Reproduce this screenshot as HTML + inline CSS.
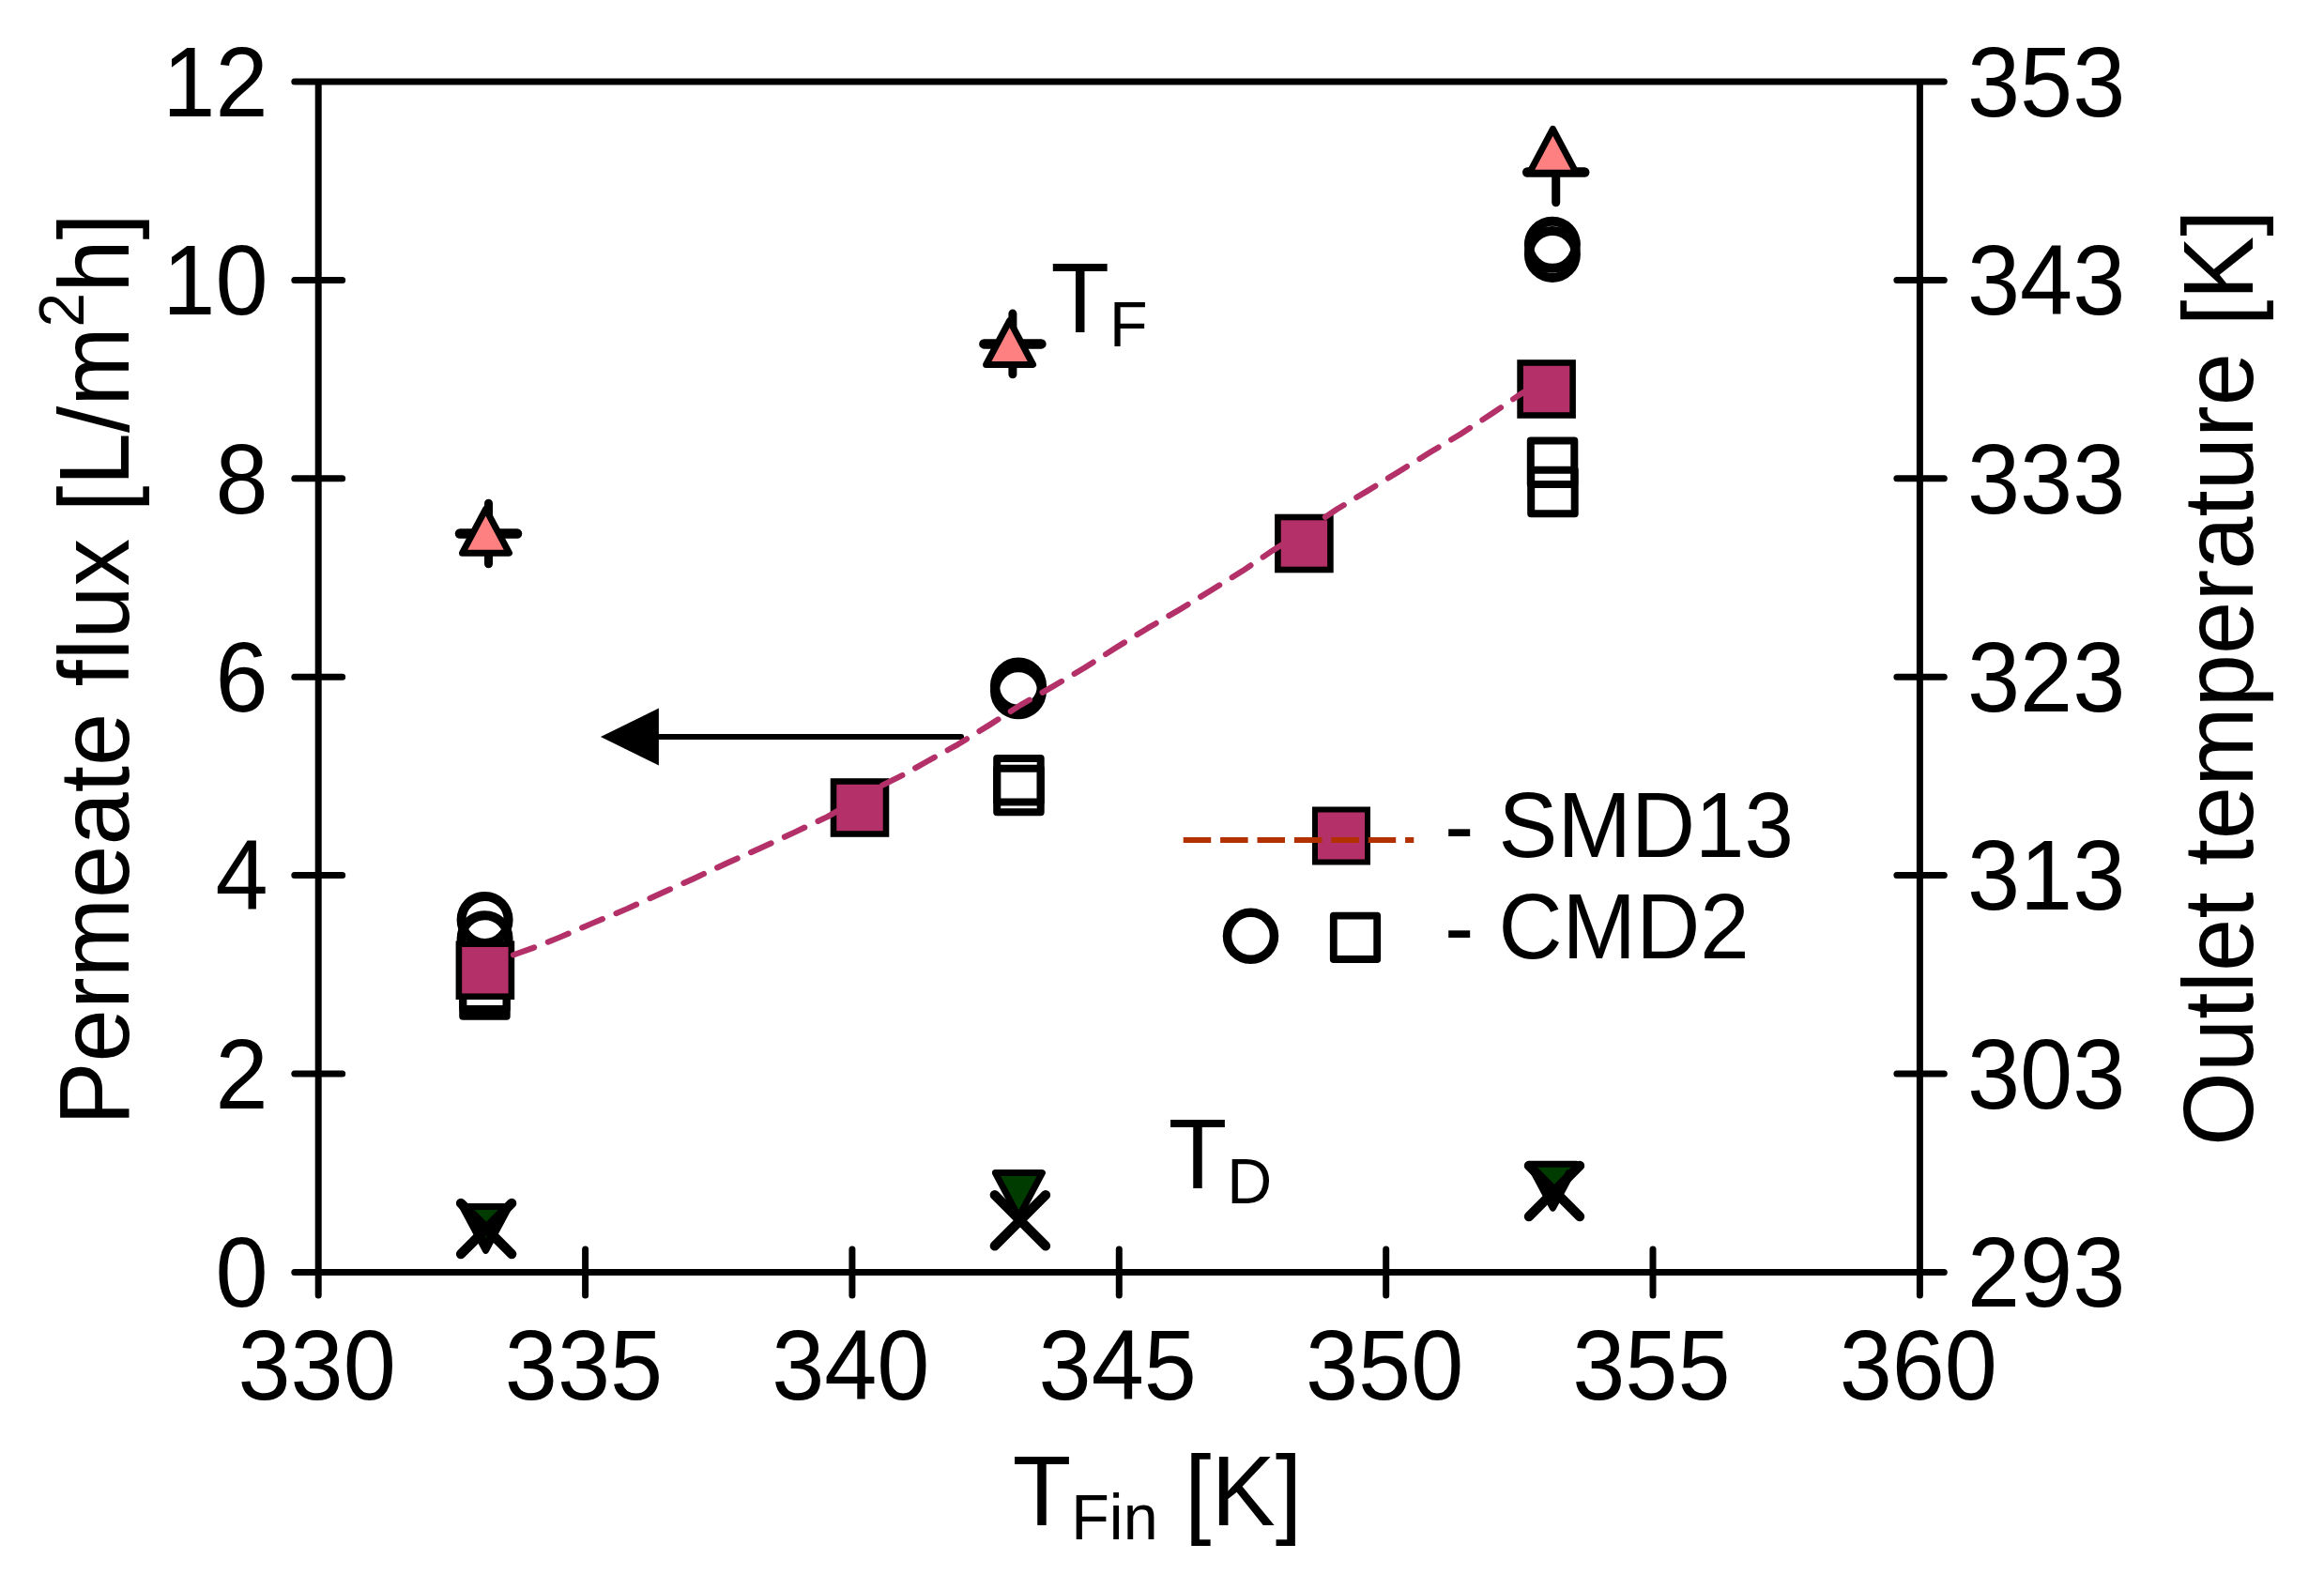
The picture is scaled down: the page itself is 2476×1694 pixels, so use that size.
<!DOCTYPE html>
<html lang="en"><head><meta charset="utf-8"><title>Permeate flux vs feed inlet temperature</title>
<style>html,body{margin:0;padding:0;background:#fff}body{width:2476px;height:1694px;overflow:hidden}svg{display:block}text{font-family:"Liberation Sans",Arial,Helvetica,sans-serif;fill:#000}</style>
</head><body>
<svg width="2476" height="1694" viewBox="0 0 2476 1694">
<rect width="2476" height="1694" fill="#fff"/>
<g id="axes" stroke="#000" stroke-width="7" stroke-linecap="round" fill="none">
<path d="M339.2,87.0 V1379.9 M2045.4,87.0 V1379.9 M313.8,87.0 H2071.3 M313.8,1355.4 H2071.3"/>
<path d="M313.8,298.4 H364.7 M2020.9,298.4 H2071.3 M313.8,509.8 H364.7 M2020.9,509.8 H2071.3 M313.8,721.2 H364.7 M2020.9,721.2 H2071.3 M313.8,932.6 H364.7 M2020.9,932.6 H2071.3 M313.8,1144.0 H364.7 M2020.9,1144.0 H2071.3 M623.6,1330.9 V1379.9 M907.9,1330.9 V1379.9 M1192.3,1330.9 V1379.9 M1476.7,1330.9 V1379.9 M1761.0,1330.9 V1379.9"/>
</g>
<g id="ticklabels">
<text transform="translate(285.5,123.7) scale(0.985,1.0405)" font-size="102.4" text-anchor="end">12</text>
<text transform="translate(285.5,335.1) scale(0.985,1.0405)" font-size="102.4" text-anchor="end">10</text>
<text transform="translate(285.5,546.5) scale(0.985,1.0405)" font-size="102.4" text-anchor="end">8</text>
<text transform="translate(285.5,757.9) scale(0.985,1.0405)" font-size="102.4" text-anchor="end">6</text>
<text transform="translate(285.5,969.3) scale(0.985,1.0405)" font-size="102.4" text-anchor="end">4</text>
<text transform="translate(285.5,1180.7) scale(0.985,1.0405)" font-size="102.4" text-anchor="end">2</text>
<text transform="translate(285.5,1392.1) scale(0.985,1.0405)" font-size="102.4" text-anchor="end">0</text>
<text transform="translate(2096.0,123.7) scale(0.985,1.0405)" font-size="102.4" text-anchor="start">353</text>
<text transform="translate(2096.0,335.1) scale(0.985,1.0405)" font-size="102.4" text-anchor="start">343</text>
<text transform="translate(2096.0,546.5) scale(0.985,1.0405)" font-size="102.4" text-anchor="start">333</text>
<text transform="translate(2096.0,757.9) scale(0.985,1.0405)" font-size="102.4" text-anchor="start">323</text>
<text transform="translate(2096.0,969.3) scale(0.985,1.0405)" font-size="102.4" text-anchor="start">313</text>
<text transform="translate(2096.0,1180.7) scale(0.985,1.0405)" font-size="102.4" text-anchor="start">303</text>
<text transform="translate(2096.0,1392.1) scale(0.985,1.0405)" font-size="102.4" text-anchor="start">293</text>
<text transform="translate(337.6,1490.5) scale(0.985,1.0405)" font-size="102.4" text-anchor="middle">330</text>
<text transform="translate(622.0,1490.5) scale(0.985,1.0405)" font-size="102.4" text-anchor="middle">335</text>
<text transform="translate(906.3,1490.5) scale(0.985,1.0405)" font-size="102.4" text-anchor="middle">340</text>
<text transform="translate(1190.7,1490.5) scale(0.985,1.0405)" font-size="102.4" text-anchor="middle">345</text>
<text transform="translate(1475.1,1490.5) scale(0.985,1.0405)" font-size="102.4" text-anchor="middle">350</text>
<text transform="translate(1759.4,1490.5) scale(0.985,1.0405)" font-size="102.4" text-anchor="middle">355</text>
<text transform="translate(2043.8,1490.5) scale(0.985,1.0405)" font-size="102.4" text-anchor="middle">360</text>
</g>
<g id="titles">
<text transform="translate(1078.7,1624.9) scale(1,1.0405)" font-size="102.4" text-anchor="start">T<tspan font-size="66.5" dy="14.2">Fin</tspan><tspan dy="-14.2"> [K]</tspan></text>
<text transform="translate(136.8,1199.1) rotate(-90) scale(0.99,1.0405)" font-size="102.4" text-anchor="start">Permeate flux [L/m<tspan font-size="66.5" dy="-46">2</tspan><tspan dy="46">h]</tspan></text>
<text transform="translate(2400.3,1220.9) rotate(-90) scale(0.99,1.0405)" font-size="102.4" text-anchor="start">Outlet temperature [K]</text>
<text transform="translate(1119.5,354.1) scale(1,1.0405)" font-size="102.4" text-anchor="start">T<tspan font-size="66.5" dy="14.2">F</tspan></text>
<text transform="translate(1244.7,1265.9) scale(1,1.0405)" font-size="102.4" text-anchor="start">T<tspan font-size="66.5" dy="15">D</tspan></text>
</g>
<g id="cmd2">
<rect x="493.2" y="1028.5" width="46.5" height="46.5" fill="none" stroke="#000" stroke-width="8" stroke-linejoin="round"/>
<rect x="493.2" y="1036.2" width="46.5" height="46.5" fill="none" stroke="#000" stroke-width="8" stroke-linejoin="round"/>
<rect x="1062.2" y="808.0" width="46.5" height="46.5" fill="none" stroke="#000" stroke-width="8" stroke-linejoin="round"/>
<rect x="1062.2" y="818.8" width="46.5" height="46.5" fill="none" stroke="#000" stroke-width="8" stroke-linejoin="round"/>
<rect x="1630.8" y="469.4" width="46.5" height="46.5" fill="none" stroke="#000" stroke-width="8" stroke-linejoin="round"/>
<rect x="1631.2" y="500.8" width="46.5" height="46.5" fill="none" stroke="#000" stroke-width="8" stroke-linejoin="round"/>
<circle cx="516.6" cy="979.9" r="25" fill="none" stroke="#000" stroke-width="10"/>
<circle cx="516.6" cy="1000.2" r="25" fill="none" stroke="#000" stroke-width="10"/>
<circle cx="1085" cy="730.6" r="25" fill="none" stroke="#000" stroke-width="10"/>
<circle cx="1085" cy="736.2" r="25" fill="none" stroke="#000" stroke-width="10"/>
<circle cx="1653.9" cy="260.8" r="25" fill="none" stroke="#000" stroke-width="10"/>
<circle cx="1653.9" cy="270.9" r="25" fill="none" stroke="#000" stroke-width="10"/>
</g>
<g id="outlet-temps">
<path d="M490.0,568.5 H551.0" stroke="#000" stroke-width="10.5" stroke-linecap="round"/><path d="M520.5,536.2 V600.8" stroke="#000" stroke-width="9" stroke-linecap="round"/>
<path d="M517.5,542.3 L542.5,589.2 L492.5,589.2 Z" fill="#FF8080" stroke="#000" stroke-width="7" stroke-linejoin="round"/>
<path d="M1048.4,366.4 H1109.4" stroke="#000" stroke-width="10.5" stroke-linecap="round"/><path d="M1078.9,334.09999999999997 V398.7" stroke="#000" stroke-width="9" stroke-linecap="round"/>
<path d="M1075.6,341.6 L1100.6,388.5 L1050.6,388.5 Z" fill="#FF8080" stroke="#000" stroke-width="7" stroke-linejoin="round"/>
<path d="M1627.2,183.5 H1688.2" stroke="#000" stroke-width="10.5" stroke-linecap="round"/><path d="M1657.7,151.2 V215.8" stroke="#000" stroke-width="9" stroke-linecap="round"/>
<path d="M1654.4,137.4 L1679.4,184.3 L1629.4,184.3 Z" fill="#FF8080" stroke="#000" stroke-width="7" stroke-linejoin="round"/>
<path d="M517.5,1332.4 L542.5,1285.5 L492.5,1285.5 Z" fill="#003C00" stroke="#000" stroke-width="7" stroke-linejoin="round"/>
<path d="M500.5,1295.5 L517.5,1327.5 L534.5,1295.5" fill="none" stroke="#000" stroke-width="8" stroke-linejoin="round" stroke-linecap="round"/>
<path d="M491.0,1281.9 L545.2,1336.1 M491.0,1336.1 L545.2,1281.9" stroke="#000" stroke-width="10.3" stroke-linecap="round" fill="none"/>
<path d="M1059.8,1273.2 L1114.0,1327.4 M1059.8,1327.4 L1114.0,1273.2" stroke="#000" stroke-width="10.3" stroke-linecap="round" fill="none"/>
<path d="M1085.4,1296.5 L1110.4,1249.6 L1060.4,1249.6 Z" fill="#003C00" stroke="#000" stroke-width="7" stroke-linejoin="round"/>
<path d="M1654.4,1287.2 L1679.4,1240.3 L1629.4,1240.3 Z" fill="#003C00" stroke="#000" stroke-width="7" stroke-linejoin="round"/>
<path d="M1637.4,1250.3 L1654.4,1282.3 L1671.4,1250.3" fill="none" stroke="#000" stroke-width="8" stroke-linejoin="round" stroke-linecap="round"/>
<path d="M1628.9,1241.9 L1683.1,1296.1 M1628.9,1296.1 L1683.1,1241.9" stroke="#000" stroke-width="10.3" stroke-linecap="round" fill="none"/>
</g>
<g id="arrow"><path d="M700,785 H1024" stroke="#000" stroke-width="6.2" stroke-linecap="round"/><path d="M639.9,785 L701.9,754.6 V815.4 Z" fill="#000"/></g>
<g id="smd13">
<rect x="488.9" y="1005.7" width="56" height="56" fill="#B33068" stroke="#000" stroke-width="6.6"/>
<rect x="888.0" y="832.5" width="56" height="56" fill="#B33068" stroke="#000" stroke-width="6.6"/>
<rect x="1361.4" y="551.0" width="56" height="56" fill="#B33068" stroke="#000" stroke-width="6.6"/>
<rect x="1619.6" y="386.5" width="56" height="56" fill="#B33068" stroke="#000" stroke-width="6.6"/>
<path d="M516.9,1028 L545.4,1017.9 L572.1,1008.4 L595.4,999 L631.5,983.5 L668.5,968 L704.6,951.6 L739.6,935.8 L776.6,918.6 L811.7,902.9 L847,886.5 L881.4,870.2 L916,850.5 L939.9,836.6 L961.4,826 L986.1,812.1 L1020.5,793.2 L1054,772.5 L1087.6,751 L1122,731.2 L1155.6,711.4 L1189.2,689.9 L1222.7,669.3 L1256.3,649.7 L1290.4,628.9 L1323.9,608.2 L1356.2,586.3 L1389.4,566 L1424.6,542.4 L1456.9,523 L1490.5,502.3 L1524,481.7 L1556.3,462.3 L1589.9,440.4 L1618.3,421 L1640,408" fill="none" stroke="#B33068" stroke-width="6.2" stroke-linecap="round" stroke-linejoin="round" stroke-dasharray="23.5 15.9" stroke-dashoffset="7.5"/>
</g>
<g id="legend">
<rect x="1401.0" y="862.5" width="56" height="56" fill="#B33068" stroke="#000" stroke-width="6"/>
<path d="M1260.7,895 H1506.3" stroke="#B33000" stroke-width="6.2" stroke-dasharray="29.5 9.9" fill="none"/>
<circle cx="1332.5" cy="997.3" r="25" fill="none" stroke="#000" stroke-width="9.5"/>
<rect x="1420.8" y="975.6" width="46.4" height="46.4" fill="none" stroke="#000" stroke-width="7.8" stroke-linejoin="round"/>
<text transform="translate(1538.9,912.8) scale(1,1.0405)" font-size="94.3" text-anchor="start">- SMD13</text>
<text transform="translate(1538.9,1020.8) scale(1,1.0405)" font-size="94.3" text-anchor="start">- CMD2</text>
</g>
</svg>
</body></html>
